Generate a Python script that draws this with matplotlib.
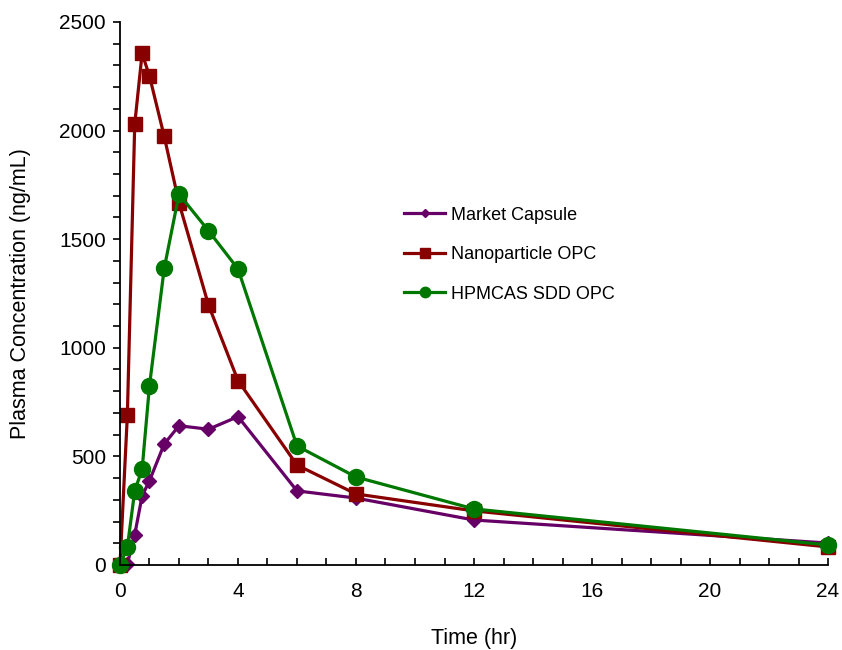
import matplotlib.pyplot as plt
from matplotlib.ticker import MultipleLocator

plt.rcParams['font.family'] = ['Liberation Sans', 'DejaVu Sans']

# sampling times (hr)
time = [0, 0.25, 0.5, 0.75, 1, 1.5, 2, 3, 4, 6, 8, 12, 24]

# plasma concentration (ng/mL)
market_capsule = [0, 5, 140, 318, 388, 557, 641, 625, 683, 341, 308, 207, 101]
nanoparticle_opc = [0, 690, 2030, 2355, 2251, 1973, 1667, 1197, 849, 460, 327, 249, 83]
hpmcas_sdd_opc = [0, 82, 342, 440, 826, 1366, 1707, 1539, 1363, 548, 405, 258, 92]

fig = plt.figure(figsize=(8.42, 6.5), dpi=100)
ax = fig.add_axes([0.1425, 0.1308, 0.8409, 0.8354])

ax.plot(time, market_capsule, color='#660066', marker='D', markersize=7,
        linewidth=2.3, label='Market Capsule', clip_on=False)
ax.plot(time, nanoparticle_opc, color='#880000', marker='s', markersize=10,
        linewidth=2.3, label='Nanoparticle OPC', clip_on=False)
ax.plot(time, hpmcas_sdd_opc, color='#007700', marker='o', markersize=11.5,
        linewidth=2.3, label='HPMCAS SDD OPC', clip_on=False)

ax.set_xlim(0, 24)
ax.set_ylim(0, 2500)
ax.xaxis.set_major_locator(MultipleLocator(4))
ax.xaxis.set_minor_locator(MultipleLocator(1))
ax.yaxis.set_major_locator(MultipleLocator(500))
ax.yaxis.set_minor_locator(MultipleLocator(100))
ax.tick_params(axis='x', which='both', direction='in', length=5, width=1.2,
               labelsize=15, pad=12)
ax.tick_params(axis='y', which='both', direction='out', length=5, width=1.2,
               labelsize=15, pad=5)

for side in ['top', 'right']:
    ax.spines[side].set_visible(False)
for side in ['left', 'bottom']:
    ax.spines[side].set_linewidth(1.3)

ax.set_xlabel('Time (hr)', fontsize=15.5, labelpad=20)
ax.set_ylabel('Plasma Concentration (ng/mL)', fontsize=15.5, labelpad=20)

ax.legend(loc='upper left', bbox_to_anchor=(0.378, 0.69), frameon=False,
          fontsize=13, handlelength=2.3, handletextpad=0.3, labelspacing=1.25,
          markerscale=0.65)

fig.savefig('out.png', dpi=100)
